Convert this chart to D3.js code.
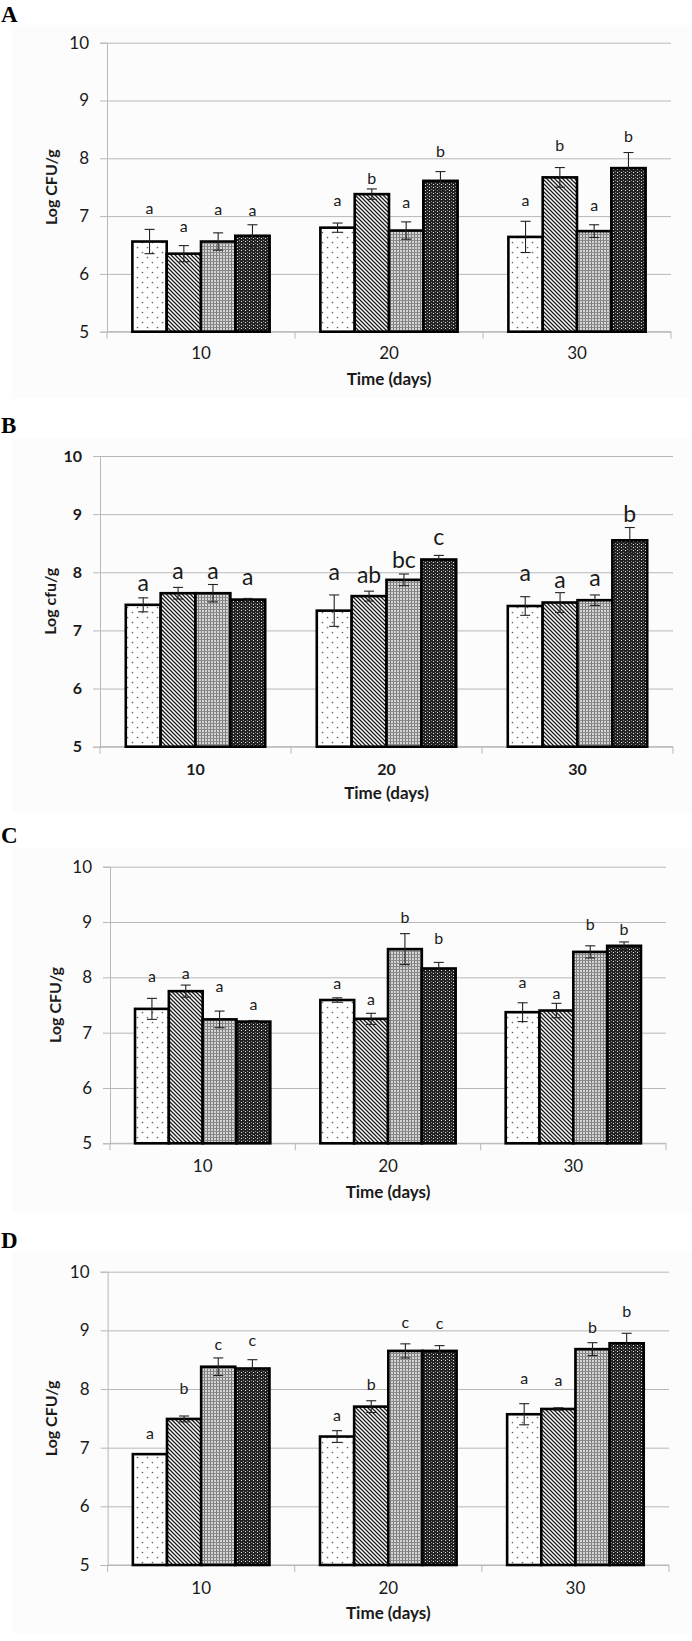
<!DOCTYPE html>
<html>
<head>
<meta charset="utf-8">
<script src="https://cdn.jsdelivr.net/npm/d3@7"></script>
<style>
  html, body { margin: 0; padding: 0; background: #fff; }
  svg { display: block; }
</style>
</head>
<body>
<svg id="chart" width="692" height="1641"></svg>
<script>
// ---------------- DATA ----------------
const categories = ["10", "20", "30"];
const seriesNames = ["T1", "T2", "T3", "T4"];
const yTickValues = [5, 6, 7, 8, 9, 10];

// Panel A
const meanA = [[6.56, 6.35, 6.56, 6.66], [6.80, 7.38, 6.75, 7.61], [6.64, 7.67, 6.74, 7.83]];
const errA  = [[0.21, 0.14, 0.15, 0.19], [0.08, 0.09, 0.15, 0.16], [0.27, 0.17, 0.11, 0.27]];
const letA  = [["a", "a", "a", "a"], ["a", "b", "a", "b"], ["a", "b", "a", "b"]];
const letLevelA = [[7.10, 6.80, 7.09, 7.08], [7.25, 7.65, 7.21, 8.13], [7.25, 8.22, 7.16, 8.39]];

// Panel B
const meanB = [[7.44, 7.64, 7.64, 7.53], [7.34, 7.59, 7.87, 8.22], [7.42, 7.48, 7.52, 8.55]];
const errB  = [[0.12, 0.10, 0.15, 0.02], [0.27, 0.085, 0.10, 0.07], [0.16, 0.17, 0.09, 0.22]];
const letB  = [["a", "a", "a", "a"], ["a", "ab", "bc", "c"], ["a", "a", "a", "b"]];
const letLevelB = [[7.78, 7.98, 7.98, 7.88], [7.97, 7.95, 8.22, 8.57], [7.95, 7.84, 7.87, 9.00]];

// Panel C
const meanC = [[7.43, 7.75, 7.24, 7.20], [7.59, 7.25, 8.51, 8.16], [7.37, 7.40, 8.46, 8.57]];
const errC  = [[0.19, 0.11, 0.15, 0.02], [0.04, 0.10, 0.28, 0.11], [0.17, 0.13, 0.11, 0.07]];
const letC  = [["a", "a", "a", "a"], ["a", "a", "b", "b"], ["a", "a", "b", "b"]];
const letLevelC = [[7.99, 8.04, 7.81, 7.49], [7.87, 7.57, 9.08, 8.70], [7.88, 7.69, 8.96, 8.87]];

// Panel D
const meanD = [[6.89, 7.49, 8.38, 8.35], [7.19, 7.70, 8.65, 8.65], [7.57, 7.66, 8.68, 8.78]];
const errD  = [[0.00, 0.05, 0.15, 0.15], [0.10, 0.10, 0.12, 0.09], [0.18, 0.02, 0.11, 0.17]];
const letD  = [["a", "b", "c", "c"], ["a", "b", "c", "c"], ["a", "a", "b", "b"]];
const letLevelD = [[7.22, 8.02, 8.74, 8.81], [7.53, 8.08, 9.11, 9.09], [8.15, 8.13, 9.05, 9.32]];

const xTitle = "Time (days)";

// ---------------- LAYOUT ----------------
const panels = [
  { tag: "A", yTitle: "Log CFU/g", mean: meanA, err: errA, lets: letA, letLevel: letLevelA,
    tagY: 21.5, left: 107, right: 671, top: 42.7, bottom: 331.7, yTitleX: 51, xTickY: 353, xTitleY: 379,
    bgTop: 25, bgBottom: 398, boldTicks: false, letSize: 16 },
  { tag: "B", yTitle: "Log cfu/g", mean: meanB, err: errB, lets: letB, letLevel: letLevelB,
    tagY: 433, left: 100, right: 673, top: 456, bottom: 746.7, yTitleX: 50, xTickY: 769, xTitleY: 793,
    bgTop: 438, bgBottom: 812, boldTicks: true, letSize: 23 },
  { tag: "C", yTitle: "Log CFU/g", mean: meanC, err: errC, lets: letC, letLevel: letLevelC,
    tagY: 843, left: 110, right: 666, top: 866.7, bottom: 1143.3, yTitleX: 55, xTickY: 1166, xTitleY: 1192,
    bgTop: 848, bgBottom: 1212, boldTicks: false, letSize: 16 },
  { tag: "D", yTitle: "Log CFU/g", mean: meanD, err: errD, lets: letD, letLevel: letLevelD,
    tagY: 1248, left: 107.6, right: 669, top: 1271.7, bottom: 1565, yTitleX: 51, xTickY: 1588, xTitleY: 1613,
    bgTop: 1253, bgBottom: 1634, boldTicks: false, letSize: 16 }
];

const svg = d3.select("#chart");
const FONT = "Lato, 'Open Sans', 'DejaVu Sans', sans-serif";

svg.append("rect").attr("width", 692).attr("height", 1641).attr("fill", "#fff");

// ---------------- PATTERNS ----------------
const defs = svg.append("defs");
// 1: sparse dots
const p1 = defs.append("pattern").attr("id", "pat0").attr("patternUnits", "userSpaceOnUse")
  .attr("width", 10).attr("height", 10);
p1.append("rect").attr("width", 10).attr("height", 10).attr("fill", "#fff");
p1.append("circle").attr("cx", 2.5).attr("cy", 2.5).attr("r", 0.85).attr("fill", "#666");
p1.append("circle").attr("cx", 7.5).attr("cy", 7.5).attr("r", 0.85).attr("fill", "#666");
// 2: diagonal hatch "\"
const p2 = defs.append("pattern").attr("id", "pat1").attr("patternUnits", "userSpaceOnUse")
  .attr("width", 4).attr("height", 4);
p2.append("rect").attr("width", 4).attr("height", 4).attr("fill", "#fff");
p2.append("path").attr("d", "M0,0 L4,4 M-1,3 L1,5 M3,-1 L5,1")
  .attr("stroke", "#1a1a1a").attr("stroke-width", 1.3);
// 3: grey fine grid
const p3 = defs.append("pattern").attr("id", "pat2").attr("patternUnits", "userSpaceOnUse")
  .attr("width", 3).attr("height", 3);
p3.append("rect").attr("width", 3).attr("height", 3).attr("fill", "#d6d6d6");
p3.append("rect").attr("x", 0).attr("y", 0).attr("width", 1).attr("height", 3).attr("fill", "#7a7a7a");
p3.append("rect").attr("x", 0).attr("y", 0).attr("width", 3).attr("height", 1).attr("fill", "#8a8a8a");
// 4: dark fine grid
const p4 = defs.append("pattern").attr("id", "pat3").attr("patternUnits", "userSpaceOnUse")
  .attr("width", 4).attr("height", 3);
p4.append("rect").attr("width", 4).attr("height", 3).attr("fill", "#222");
p4.append("rect").attr("x", 1).attr("y", 1).attr("width", 1).attr("height", 1).attr("fill", "#e6e6e6");
p4.append("rect").attr("x", 3).attr("y", 0).attr("width", 1).attr("height", 1).attr("fill", "#8a8a8a");

// ---------------- DRAW ----------------
panels.forEach(p => {
  const g = svg.append("g");

  g.append("rect").attr("x", 12).attr("y", p.bgTop).attr("width", 680)
    .attr("height", p.bgBottom - p.bgTop).attr("fill", "#fcfcfc");

  g.append("text").attr("x", 1).attr("y", p.tagY)
    .attr("font-family", "'Liberation Serif', 'Times New Roman', serif")
    .attr("font-weight", "bold").attr("font-size", 23).attr("fill", "#000").text(p.tag);

  const y = d3.scaleLinear().domain([5, 10]).range([p.bottom, p.top]);
  const x0 = d3.scaleBand().domain(categories).range([p.left, p.right]).padding(0);
  const inner = x0.bandwidth() * 0.73;
  const offset = (x0.bandwidth() - inner) / 2;
  const x1 = d3.scaleBand().domain(seriesNames).range([0, inner]).padding(0);

  // gridlines
  const grid = g.append("g").attr("transform", `translate(${p.left},0)`)
    .call(d3.axisLeft(y).tickValues(yTickValues).tickSize(-(p.right - p.left)).tickFormat(""));
  grid.select(".domain").remove();
  grid.selectAll("line").attr("stroke", "#b8b8b8").attr("stroke-width", 1);

  // y axis
  const ya = g.append("g").attr("transform", `translate(${p.left},0)`)
    .call(d3.axisLeft(y).tickValues(yTickValues).tickSize(7).tickPadding(11).tickFormat(d3.format("d")));
  ya.select(".domain").attr("stroke", "#b8b8b8");
  ya.selectAll("line").attr("stroke", "#b8b8b8");
  ya.selectAll("text").attr("font-family", FONT).attr("font-size", p.boldTicks ? 16 : 17)
    .attr("font-weight", p.boldTicks ? "bold" : "normal").attr("fill", "#1a1a1a");

  // x axis (ticks at band boundaries)
  const boundaries = categories.map(c => x0(c)).concat([p.right]);
  g.append("line").attr("x1", p.left).attr("x2", p.right).attr("y1", p.bottom).attr("y2", p.bottom)
    .attr("stroke", "#b8b8b8");
  g.selectAll(".xb").data(boundaries).enter().append("line")
    .attr("x1", d => d).attr("x2", d => d).attr("y1", p.bottom).attr("y2", p.bottom + 7)
    .attr("stroke", "#b8b8b8");
  g.selectAll(".xl").data(categories).enter().append("text")
    .attr("x", d => x0(d) + x0.bandwidth() / 2).attr("y", p.xTickY)
    .attr("dy", "0.35em").attr("text-anchor", "middle")
    .attr("font-family", FONT).attr("font-size", p.boldTicks ? 16 : 17)
    .attr("font-weight", p.boldTicks ? "bold" : "normal").attr("fill", "#1a1a1a").text(d => d);

  // titles
  g.append("text").attr("x", (p.left + p.right) / 2).attr("y", p.xTitleY).attr("dy", "0.35em")
    .attr("text-anchor", "middle").attr("font-family", FONT).attr("font-size", 17)
    .attr("font-weight", "bold").attr("fill", "#1a1a1a").text(xTitle);
  g.append("text")
    .attr("transform", `translate(${p.yTitleX},${(p.top + p.bottom) / 2}) rotate(-90)`)
    .attr("dy", "0.35em").attr("text-anchor", "middle").attr("font-family", FONT)
    .attr("font-size", 16).attr("font-weight", "bold").attr("fill", "#1a1a1a").text(p.yTitle);

  // bars
  const rows = [];
  categories.forEach((c, ci) => {
    seriesNames.forEach((s, si) => {
      rows.push({ c, s, si, v: p.mean[ci][si], e: p.err[ci][si], l: p.lets[ci][si], lv: p.letLevel[ci][si] });
    });
  });
  const bx = d => x0(d.c) + offset + x1(d.s);
  g.selectAll(".bar").data(rows).enter().append("rect")
    .attr("x", bx).attr("y", d => y(d.v))
    .attr("width", x1.bandwidth()).attr("height", d => y(5) - y(d.v))
    .attr("fill", d => `url(#pat${d.si})`)
    .attr("stroke", "#000").attr("stroke-width", 2.6);

  // error bars
  const eb = g.selectAll(".eb").data(rows.filter(d => d.e > 0)).enter().append("g")
    .attr("stroke", "#222").attr("stroke-width", 1.1);
  const cx = d => bx(d) + x1.bandwidth() / 2;
  eb.append("line").attr("x1", cx).attr("x2", cx).attr("y1", d => y(d.v + d.e)).attr("y2", d => y(d.v - d.e));
  eb.append("line").attr("x1", d => cx(d) - 5).attr("x2", d => cx(d) + 5)
    .attr("y1", d => y(d.v + d.e)).attr("y2", d => y(d.v + d.e));
  eb.append("line").attr("x1", d => cx(d) - 5).attr("x2", d => cx(d) + 5)
    .attr("y1", d => y(d.v - d.e)).attr("y2", d => y(d.v - d.e));

  // significance letters
  g.selectAll(".let").data(rows).enter().append("text")
    .attr("x", cx).attr("y", d => y(d.lv) + p.letSize * (/b/.test(d.l) ? 0.36 : 0.26))
    .attr("text-anchor", "middle").attr("font-family", FONT).attr("font-size", p.letSize)
    .attr("fill", "#1a1a1a").text(d => d.l);
});
</script>
</body>
</html>
